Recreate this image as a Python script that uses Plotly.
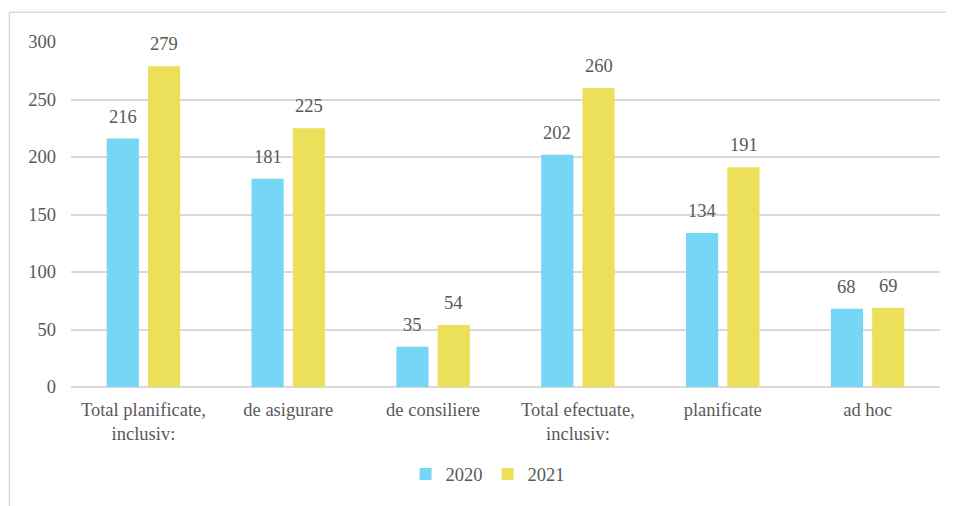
import plotly.graph_objects as go

categories = ["Total planificate,<br>inclusiv:", "de asigurare", "de consiliere",
              "Total efectuate,<br>inclusiv:", "planificate", "ad hoc"]
values_2020 = [216, 181, 35, 202, 134, 68]
values_2021 = [279, 225, 54, 260, 191, 69]
series_names = ["2020", "2021"]
y_ticks = [0, 50, 100, 150, 200, 250, 300]

BLUE = "#75D7F5"
YELLOW = "#ECE05A"
TEXT = "#595959"
GRID = "#D9D9D9"
FONT = "Liberation Serif"
FS = 18.5

fig = go.Figure()
fig.add_trace(go.Bar(x=categories, y=values_2020, name=series_names[0],
                     marker=dict(color=BLUE, line=dict(width=0))))
fig.add_trace(go.Bar(x=categories, y=values_2021, name=series_names[1],
                     marker=dict(color=YELLOW, line=dict(width=0))))

for vals, shift in ((values_2020, -20.75), (values_2021, 20.75)):
    for c, v in zip(categories, vals):
        fig.add_annotation(x=c, y=v, text=str(v), showarrow=False,
                           xshift=shift, yshift=10, yanchor="bottom",
                           font=dict(family=FONT, size=FS, color=TEXT))

# outer chart border
fig.add_shape(type="rect", xref="paper", yref="paper",
              x0=-0.0708, x1=1.2, y0=-0.6, y1=1.0865,
              line=dict(color=GRID, width=1.5), fillcolor="rgba(0,0,0,0)", layer="below")

fig.update_layout(
    width=946, height=498,
    margin=dict(l=63, r=14, t=34, b=117),
    paper_bgcolor="white", plot_bgcolor="white",
    barmode="group", bargap=0.43, bargroupgap=0.22,
    font=dict(family=FONT, size=FS, color=TEXT),
    showlegend=True,
    legend=dict(orientation="h", x=0.385, xanchor="left", y=-0.2536, yanchor="middle",
                font=dict(family=FONT, size=FS, color=TEXT), itemwidth=30),
    xaxis=dict(showgrid=False, showline=False, ticks="", tickfont=dict(size=FS),
               zeroline=False, ticklabelstandoff=9),
    yaxis=dict(range=[0, 300], tickvals=y_ticks, showgrid=True, gridcolor=GRID,
               gridwidth=1.5, zeroline=True, zerolinecolor=GRID, zerolinewidth=1.5,
               showline=False, ticks="", ticklabelstandoff=14, tickfont=dict(size=FS)),
)

fig.write_html("out.html")
